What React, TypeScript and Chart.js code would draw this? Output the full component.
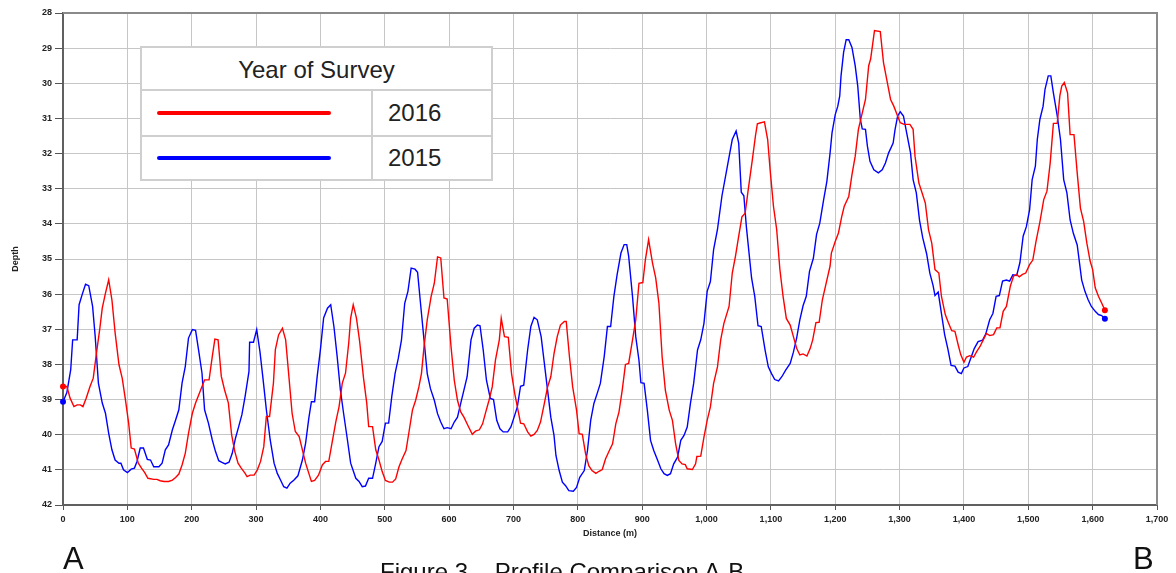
import React, { useEffect, useRef } from "react";
import { Chart, registerables } from "chart.js";

Chart.register(...registerables);

// Survey 2016 (red)
const dist2016 = [0,6,11,17,22,27,31,36,42,47,52,57,61,66,71,76,81,87,92,97,102,106,111,117,122,127,132,141,146,151,157,164,170,175,180,185,190,195,201,206,211,216,220,227,232,236,241,246,251,257,262,267,272,277,283,286,291,297,302,307,312,316,321,327,330,335,341,346,351,356,361,367,372,377,382,386,391,397,403,408,413,418,424,429,434,439,444,447,451,456,461,467,472,475,481,486,491,496,501,507,512,517,522,527,533,538,543,548,553,557,561,566,572,577,582,587,592,597,603,608,613,618,623,629,636,641,647,652,657,662,667,672,678,681,686,692,697,702,707,711,716,722,727,732,737,742,748,753,758,763,768,773,779,782,787,792,798,802,807,812,817,822,828,833,838,843,849,854,859,864,869,874,879,885,890,895,901,905,910,916,921,926,931,936,942,947,952,957,962,967,970,978,983,985,991,996,1001,1006,1011,1017,1022,1027,1035,1040,1045,1050,1055,1060,1065,1071,1076,1079,1083,1090,1095,1099,1104,1109,1114,1119,1124,1130,1135,1140,1145,1150,1156,1161,1165,1170,1175,1180,1186,1192,1194,1200,1205,1210,1214,1221,1226,1231,1236,1242,1247,1252,1255,1261,1270,1275,1280,1286,1291,1296,1301,1307,1316,1321,1324,1330,1335,1340,1345,1350,1355,1361,1365,1371,1376,1381,1386,1391,1395,1400,1404,1409,1415,1420,1425,1430,1435,1440,1446,1451,1456,1461,1466,1472,1477,1482,1486,1491,1496,1502,1507,1512,1518,1524,1529,1534,1539,1545,1549,1552,1556,1561,1565,1571,1576,1581,1586,1591,1596,1600,1604,1609,1614,1619];
const depth2016 = [38.63,38.63,38.96,39.2,39.15,39.15,39.2,38.96,38.63,38.39,37.68,37.01,36.4,35.97,35.59,36.16,37.1,38.01,38.39,39.0,39.67,40.38,40.41,40.81,40.95,41.08,41.24,41.27,41.27,41.31,41.33,41.33,41.29,41.22,41.12,40.86,40.53,39.96,39.39,39.1,38.86,38.63,38.44,38.44,37.77,37.28,37.3,38.34,38.72,39.1,40.0,40.48,40.81,40.95,41.1,41.19,41.15,41.15,41.0,40.76,40.34,39.48,39.48,38.53,37.58,37.16,36.97,37.3,38.34,39.39,39.91,40.05,40.43,40.81,41.1,41.33,41.3,41.15,40.86,40.76,40.76,40.24,39.63,39.2,38.53,38.25,37.39,36.68,36.3,36.68,37.35,38.39,39.1,39.77,39.77,40.43,40.72,41.05,41.3,41.35,41.35,41.26,40.92,40.69,40.45,39.88,39.3,39.02,38.64,38.26,37.5,36.73,36.07,35.69,34.94,34.97,36.11,36.14,37.5,38.45,39.02,39.35,39.5,39.73,39.99,39.9,39.86,39.69,39.35,39.02,38.64,37.88,37.3,36.69,37.21,37.23,38.26,38.83,39.3,39.67,39.69,39.92,40.04,39.99,39.88,39.64,39.11,38.64,38.35,37.69,37.21,36.88,36.78,36.78,37.78,38.64,39.3,39.97,39.99,40.54,40.88,41.02,41.1,41.04,40.99,40.69,40.45,40.26,39.69,39.35,38.73,38.0,37.97,37.3,36.73,35.69,35.67,35.02,34.45,35.11,35.54,36.26,37.78,38.73,39.3,39.59,40.26,40.73,40.83,40.85,40.97,40.99,40.83,40.62,40.61,40.07,39.59,39.21,38.54,38.07,37.3,36.83,36.35,35.4,34.92,34.35,33.8,33.7,33.0,32.2,31.5,31.15,31.13,31.1,31.6,32.5,33.5,34.16,35.3,36.07,36.69,36.88,37.21,37.54,37.73,37.7,37.76,37.55,37.3,36.81,36.8,36.16,35.68,35.2,34.83,34.5,34.26,33.8,33.5,33.22,32.6,32.08,31.31,30.84,30.46,29.5,29.31,28.5,28.53,29.41,29.89,30.46,30.65,30.89,31.12,31.17,31.17,31.31,32.08,32.84,33.12,33.41,34.17,34.55,35.3,35.4,36.06,36.58,36.82,37.04,37.06,37.44,37.72,37.94,37.79,37.75,37.79,37.63,37.49,37.3,37.12,37.18,37.15,36.96,36.96,36.49,36.35,35.78,35.49,35.44,35.51,35.44,35.4,35.16,35.03,34.5,33.95,33.31,33.07,32.27,31.14,31.14,30.36,30.08,29.98,30.27,31.46,31.46,32.55,33.55,33.93,34.55,35.05,35.3,35.82,36.06,36.25,36.46];

// Survey 2015 (blue)
const dist2015 = [0,6,12,15,22,25,30,35,40,46,50,55,61,66,71,76,81,87,90,94,100,106,111,115,120,125,131,136,141,149,154,159,164,170,175,180,185,190,195,201,206,211,216,220,226,232,237,242,247,252,258,263,268,273,278,283,289,290,296,301,306,311,316,322,328,333,338,343,348,353,359,365,372,377,382,386,391,395,400,405,411,416,421,426,431,436,442,447,455,460,465,470,475,481,486,491,496,501,506,511,516,521,526,531,536,541,547,551,556,561,566,571,577,582,587,592,597,603,608,613,618,623,628,634,639,644,648,653,658,664,669,674,679,684,691,696,701,706,711,716,722,727,732,737,743,748,753,758,763,766,771,776,781,786,793,798,803,810,815,820,825,830,835,841,846,851,856,861,867,872,876,879,885,890,895,898,903,908,913,918,924,929,934,939,944,949,955,960,965,970,975,980,986,991,996,1001,1006,1011,1017,1024,1033,1040,1046,1050,1054,1058,1062,1070,1075,1080,1085,1091,1096,1101,1106,1112,1117,1123,1130,1135,1140,1145,1150,1155,1160,1166,1171,1176,1182,1187,1192,1195,1200,1204,1207,1209,1213,1217,1221,1226,1231,1235,1239,1242,1247,1250,1254,1260,1267,1273,1278,1283,1290,1293,1297,1301,1306,1311,1317,1321,1326,1331,1336,1342,1347,1352,1355,1360,1365,1370,1375,1380,1386,1391,1396,1400,1406,1411,1416,1422,1429,1434,1440,1445,1450,1455,1460,1466,1471,1476,1482,1487,1492,1497,1502,1506,1511,1514,1518,1523,1526,1531,1535,1539,1545,1550,1555,1560,1565,1570,1576,1583,1588,1593,1598,1604,1609,1614,1619];
const depth2015 = [39.06,38.8,38.15,37.3,37.3,36.3,36.0,35.72,35.76,36.35,37.2,38.53,39.1,39.39,39.96,40.43,40.72,40.81,40.81,41.0,41.08,40.98,40.95,40.76,40.38,40.38,40.7,40.72,40.91,40.91,40.81,40.43,40.29,39.86,39.58,39.29,38.53,38.06,37.25,37.01,37.03,37.63,38.25,39.29,39.67,40.15,40.48,40.74,40.79,40.83,40.78,40.53,40.1,39.77,39.43,38.91,38.2,37.37,37.37,37.01,37.63,38.44,39.29,40.15,40.81,41.1,41.29,41.48,41.52,41.38,41.29,41.17,40.72,40.24,39.53,39.06,39.06,38.34,37.58,36.68,36.4,36.3,36.92,37.77,38.72,39.39,40.15,40.81,41.24,41.33,41.48,41.46,41.24,41.24,40.81,40.34,40.19,39.67,39.67,38.9,38.26,37.83,37.3,36.26,35.92,35.26,35.29,35.38,36.35,37.3,38.26,38.69,39.02,39.4,39.64,39.83,39.8,39.83,39.64,39.5,39.11,38.73,38.35,37.3,36.97,36.88,36.9,37.59,38.45,38.97,39.0,39.59,39.83,39.92,39.92,39.78,39.5,39.21,38.62,38.59,37.59,36.92,36.66,36.73,37.21,37.97,38.73,39.5,40.02,40.59,41.02,41.35,41.45,41.59,41.61,41.5,41.21,41.02,40.45,39.59,39.11,38.83,38.54,37.78,36.92,36.92,36.07,35.45,34.83,34.59,34.59,34.92,36.07,37.21,37.88,38.52,38.54,39.3,40.16,40.45,40.73,40.97,41.11,41.16,41.11,40.83,40.64,40.16,40.02,39.78,39.11,38.54,37.59,37.3,36.83,35.92,35.64,34.73,34.16,33.2,32.3,31.6,31.36,31.7,33.1,33.2,34.1,35.54,36.07,36.9,36.92,37.59,38.07,38.26,38.43,38.47,38.35,38.16,37.97,37.65,37.25,36.73,36.33,36.06,35.35,34.98,34.3,33.98,33.31,32.79,31.98,31.41,30.89,30.65,30.36,29.79,29.12,28.76,28.76,28.98,29.5,30.08,31.03,31.3,31.31,31.79,32.22,32.46,32.55,32.46,32.27,31.98,31.7,31.31,30.93,30.81,30.93,31.41,31.98,32.74,33.12,33.9,34.4,34.85,35.4,35.75,36.04,35.94,36.55,37.15,37.56,38.03,38.05,38.22,38.26,38.1,38.06,37.8,37.55,37.35,37.31,37.13,36.73,36.55,36.06,36.04,35.63,35.6,35.63,35.45,35.47,35.1,34.35,34.08,33.6,32.74,32.36,31.6,31.03,30.65,30.17,29.79,29.79,30.27,30.93,31.6,32.74,33.12,33.89,34.27,34.6,35.6,35.92,36.16,36.35,36.49,36.58,36.61,36.7];

const xMin = 0;
const xMax = 1700;
const xStep = 100;
const yMin = 28;
const yMax = 42;
const yStep = 1;

const legendTitle = "Year of Survey";
const seriesNames = ["2016", "2015"];
const seriesColors = ["rgb(255,0,0)", "rgb(0,0,255)"];
const xTitle = "Distance (m)";
const yTitle = "Depth";
const captionLeft = "A";
const captionRight = "B";
const captionCenter = "Figure 3 – Profile Comparison A-B";

const W = 1176;
const H = 573;
const tickFont = { family: "'Liberation Sans', Arial, sans-serif", size: 9, weight: "bold" as const };

function toPoints(xs: number[], ys: number[]) {
  return xs.map((x, i) => ({ x, y: ys[i] }));
}

function fmt(v: number) {
  return String(Math.round(v)).replace(/\B(?=(\d{3})+(?!\d))/g, ",");
}

const framePlugin = {
  id: "frame",
  beforeDatasetsDraw(chart: any) {
    const { ctx, chartArea } = chart;
    const { left, right, top, bottom } = chartArea;
    ctx.save();
    ctx.strokeStyle = "#8a8a8a";
    ctx.lineWidth = 2;
    ctx.beginPath();
    ctx.moveTo(left, top);
    ctx.lineTo(right, top);
    ctx.lineTo(right, bottom);
    ctx.stroke();
    ctx.restore();
  },
};

export default function App() {
  const ref = useRef<HTMLCanvasElement | null>(null);

  useEffect(() => {
    if (!ref.current) return;
    const mkDs = (label: string, color: string, pts: { x: number; y: number }[]) => ({
      label,
      data: pts,
      borderColor: color,
      backgroundColor: color,
      borderWidth: 1.4,
      tension: 0,
      fill: false,
      clip: false as any,
      pointRadius: (c: any) => (c.dataIndex === 0 || c.dataIndex === pts.length - 1 ? 3 : 0),
      pointBorderWidth: 0,
      pointBackgroundColor: color,
    });
    const chart = new Chart(ref.current, {
      type: "line",
      data: {
        datasets: [
          mkDs(seriesNames[0], seriesColors[0], toPoints(dist2016, depth2016)),
          mkDs(seriesNames[1], seriesColors[1], toPoints(dist2015, depth2015)),
        ],
      },
      options: {
        responsive: false,
        animation: false,
        layout: { padding: { top: 13, right: 19, bottom: 34, left: 0 } },
        plugins: { legend: { display: false }, tooltip: { enabled: false } },
        scales: {
          x: {
            type: "linear",
            min: xMin,
            max: xMax,
            ticks: {
              stepSize: xStep,
              autoSkip: false,
              maxRotation: 0,
              color: "#222",
              font: tickFont,
              padding: 4,
              callback: (v: any) => fmt(Number(v)),
            },
            grid: { color: "#c6c6c6", lineWidth: 1, tickLength: 5, tickColor: "#555" },
            border: { color: "#606060", width: 2 },
            title: {
              display: true,
              text: xTitle,
              color: "#222",
              font: tickFont,
              padding: { top: 2, bottom: 0 },
            },
            afterFit: (s: any) => {
              s.height = 34;
            },
          },
          y: {
            type: "linear",
            min: yMin,
            max: yMax,
            reverse: true,
            ticks: {
              stepSize: yStep,
              autoSkip: false,
              color: "#222",
              font: tickFont,
              padding: 3,
            },
            grid: { color: "#c6c6c6", lineWidth: 1, tickLength: 8, tickColor: "#555" },
            border: { color: "#606060", width: 2 },
            title: {
              display: true,
              text: yTitle,
              color: "#222",
              font: tickFont,
              padding: { top: 10, bottom: 0 },
            },
            afterFit: (s: any) => {
              s.width = 63;
            },
          },
        },
      } as any,
      plugins: [framePlugin],
    });
    return () => chart.destroy();
  }, []);

  const cellBorder = "2px solid #cfcfcf";
  const legendFont = "'Liberation Sans', Arial, sans-serif";

  return (
    <div
      style={{
        position: "fixed",
        left: 0,
        top: 0,
        width: W,
        height: H,
        background: "#fff",
        overflow: "hidden",
      }}
    >
      <canvas ref={ref} width={W} height={H} style={{ position: "absolute", left: 0, top: 0, width: W, height: H }} />
      <div
        style={{
          position: "absolute",
          left: 140,
          top: 46,
          width: 353,
          height: 135,
          boxSizing: "border-box",
          border: cellBorder,
          background: "#fff",
          fontFamily: legendFont,
          color: "#222",
        }}
      >
        <div
          style={{
            height: 43,
            borderBottom: cellBorder,
            boxSizing: "border-box",
            fontSize: 24,
            lineHeight: "43px",
            textAlign: "center",
          }}
        >
          {legendTitle}
        </div>
        {seriesNames.map((name, i) => (
          <div
            key={name}
            style={{
              height: i === 0 ? 46 : 42,
              borderBottom: i === 0 ? cellBorder : "none",
              boxSizing: "border-box",
              display: "flex",
              alignItems: "center",
            }}
          >
            <div
              style={{
                width: 231,
                height: "100%",
                borderRight: cellBorder,
                boxSizing: "border-box",
                position: "relative",
              }}
            >
              <div
                style={{
                  position: "absolute",
                  left: 15,
                  width: 174,
                  top: "50%",
                  marginTop: -2,
                  height: 4,
                  borderRadius: 2,
                  background: seriesColors[i],
                }}
              />
            </div>
            <div style={{ paddingLeft: 15, fontSize: 24 }}>{name}</div>
          </div>
        ))}
      </div>
      <div
        style={{
          position: "absolute",
          left: 63,
          top: 543,
          fontFamily: legendFont,
          fontSize: 31,
          lineHeight: 1,
          color: "#111",
        }}
      >
        {captionLeft}
      </div>
      <div
        style={{
          position: "absolute",
          left: 1133,
          top: 543,
          fontFamily: legendFont,
          fontSize: 31,
          lineHeight: 1,
          color: "#111",
        }}
      >
        {captionRight}
      </div>
      <div
        style={{
          position: "absolute",
          left: 380,
          top: 560,
          fontFamily: legendFont,
          fontSize: 24,
          lineHeight: 1,
          color: "#111",
          whiteSpace: "nowrap",
        }}
      >
        {captionCenter}
      </div>
    </div>
  );
}
